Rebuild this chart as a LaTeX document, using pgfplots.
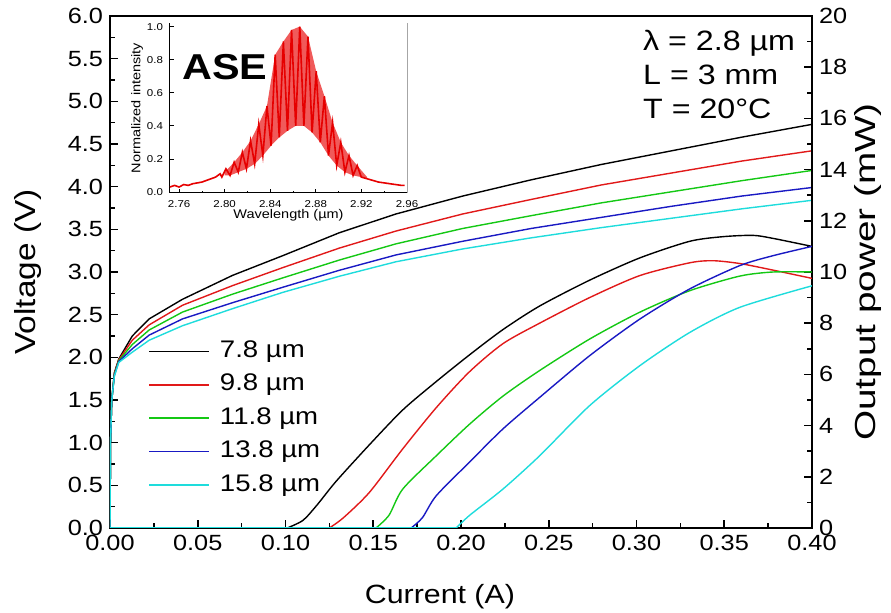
\documentclass[border=0pt]{standalone}
\usepackage{fontspec}
\setmainfont[FakeStretch=1.15]{Liberation Sans}
\usepackage{graphicx}
\usepackage{pgfplots}
\pgfplotsset{compat=1.18}
\definecolor{cRed}{RGB}{225,25,25}
\definecolor{cGreen}{RGB}{20,200,20}
\definecolor{cBlue}{RGB}{25,25,195}
\definecolor{cCyan}{RGB}{30,220,220}
\definecolor{aseRed}{RGB}{230,0,0}
\definecolor{aseFill}{RGB}{240,90,90}

\begin{document}
\begin{tikzpicture}
\pgfplotsset{every axis/.append style={/pgf/number format/assume math mode=true, scale only axis}}
% ---------------- main axis: voltage ----------------
\begin{axis}[
  width=351pt, height=256pt,
  xmin=0, xmax=0.4, ymin=0, ymax=6,
  axis line style={line width=0.9pt},
  xtick={0,0.05,0.1,0.15,0.2,0.25,0.3,0.35,0.4},
  ytick={0,0.5,1,1.5,2,2.5,3,3.5,4,4.5,5,5.5,6},
  scaled x ticks=false, scaled y ticks=false,
  minor x tick num=1, minor y tick num=1,
  tick align=inside, xtick pos=left, ytick pos=left,
  major tick length=4pt, minor tick length=2.5pt,
  tick style={line width=0.8pt, black},
  xticklabel style={/pgf/number format/.cd, fixed, fixed zerofill, precision=2},
  yticklabel style={/pgf/number format/.cd, fixed, fixed zerofill, precision=1},
  tick label style={font=\fontsize{11}{13}\selectfont},
  xlabel={Current (A)}, ylabel={Voltage (V)},
  every axis x label/.style={at={(axis description cs:0.47,-0.135)}, anchor=center, font=\fontsize{13.2}{16}\selectfont},
  every axis y label/.style={at={(axis description cs:-0.117,0.5)}, anchor=center, rotate=90, font=\fontsize{14.5}{16}\selectfont},
  legend style={draw=none, fill=none, at={(rel axis cs:0.0541,0.369)}, anchor=north west,
    inner sep=0pt, font=\fontsize{12}{14}\selectfont, row sep=4.7pt,
    nodes={inner sep=0pt, text height=9pt, text depth=3pt},
    /tikz/every odd column/.append style={column sep=5pt}},
  legend cell align=left,
  legend image code/.code={\draw[#1, line width=0.8pt] (0pt,0pt) -- (30pt,0pt);},
]
\addplot[black, line width=0.7pt] coordinates {
(0,0) (0.0003,1.0) (0.001,1.5) (0.0025,1.82) (0.005,1.98) (0.0127,2.25) (0.0223,2.45) (0.0413,2.68)
(0.0698,2.96) (0.0983,3.19) (0.1307,3.46) (0.163,3.68) (0.201,3.89) (0.24,4.08) (0.28,4.26)
(0.32,4.42) (0.36,4.58) (0.40,4.73)};
\addlegendentry{7.8 µm}
\addplot[cRed, line width=0.7pt] coordinates {
(0,0) (0.0003,1.0) (0.001,1.5) (0.0025,1.81) (0.005,1.97) (0.0127,2.2) (0.0223,2.38) (0.0413,2.61)
(0.0698,2.84) (0.0983,3.05) (0.1307,3.28) (0.163,3.48) (0.201,3.68) (0.24,3.85) (0.28,4.02)
(0.32,4.16) (0.36,4.30) (0.40,4.42)};
\addlegendentry{9.8 µm}
\addplot[cGreen, line width=0.7pt] coordinates {
(0,0) (0.0003,1.0) (0.001,1.5) (0.0025,1.8) (0.005,1.96) (0.0127,2.15) (0.0223,2.32) (0.0413,2.53)
(0.0698,2.74) (0.0983,2.93) (0.1307,3.14) (0.163,3.33) (0.201,3.51) (0.24,3.66) (0.28,3.81)
(0.32,3.94) (0.36,4.07) (0.40,4.19)};
\addlegendentry{11.8 µm}
\addplot[cBlue, line width=0.7pt] coordinates {
(0,0) (0.0003,1.0) (0.001,1.5) (0.0025,1.79) (0.005,1.95) (0.0127,2.1) (0.0223,2.26) (0.0413,2.45)
(0.0698,2.64) (0.0983,2.82) (0.1307,3.02) (0.163,3.2) (0.201,3.36) (0.24,3.51) (0.28,3.64)
(0.32,3.77) (0.36,3.89) (0.40,3.99)};
\addlegendentry{13.8 µm}
\addplot[cCyan, line width=0.7pt] coordinates {
(0,0) (0.0003,1.0) (0.001,1.5) (0.0025,1.78) (0.005,1.94) (0.0127,2.06) (0.0223,2.2) (0.0413,2.37)
(0.0698,2.57) (0.0983,2.76) (0.1307,2.95) (0.163,3.12) (0.201,3.27) (0.24,3.40) (0.28,3.52)
(0.32,3.63) (0.36,3.74) (0.40,3.84)};
\addlegendentry{15.8 µm}
\node[anchor=north west, align=left, inner sep=0pt, font=\fontsize{14}{17}\selectfont]
  at (rel axis cs:0.759,0.973) {λ = 2.8 µm\\L = 3 mm\\T = 20°C};
\end{axis}
% ---------------- second axis: output power ----------------
\begin{axis}[
  width=351pt, height=256pt,
  xmin=0, xmax=0.4, ymin=0, ymax=20,
  axis x line=none, axis y line*=right,
  axis line style={line width=0.9pt},
  ytick={0,2,4,6,8,10,12,14,16,18,20},
  minor y tick num=1, tick align=inside,
  major tick length=4pt, minor tick length=2.5pt,
  tick style={line width=0.8pt, black},
  tick label style={font=\fontsize{11}{13}\selectfont},
  ylabel={\scalebox{1.16}[1]{Output power (mW)}},
  every axis y label/.style={at={(axis description cs:1.08,0.5)}, anchor=center, rotate=90, font=\fontsize{14.5}{16}\selectfont},
]
\addplot[black, line width=0.7pt] coordinates {(0,0) (0.101,0)};
\addplot[black, line width=0.7pt, smooth, tension=0.45] coordinates {
(0.101,0) (0.11,0.3) (0.118,0.9) (0.1288,1.82) (0.1478,3.25) (0.1668,4.61) (0.1859,5.72)
(0.2048,6.76) (0.2239,7.75) (0.2448,8.67) (0.2733,9.68) (0.3019,10.55) (0.3304,11.2)
(0.3494,11.38) (0.3665,11.43) (0.378,11.31) (0.40,11.0)};
\addplot[cRed, line width=0.7pt] coordinates {(0,0) (0.125,0)};
\addplot[cRed, line width=0.7pt, smooth, tension=0.45] coordinates {
(0.125,0) (0.133,0.4) (0.1478,1.39) (0.1668,3.09) (0.1859,4.7) (0.2048,6.1) (0.2239,7.2)
(0.2448,8.0) (0.2733,9.0) (0.3019,9.86) (0.3304,10.36) (0.3437,10.44) (0.3589,10.33)
(0.378,10.07) (0.40,9.75)};
\addplot[cGreen, line width=0.7pt] coordinates {(0,0) (0.1516,0)};
\addplot[cGreen, line width=0.7pt, smooth, tension=0.45] coordinates {
(0.1516,0) (0.159,0.5) (0.1668,1.52) (0.1859,2.82) (0.2048,4.05) (0.2239,5.15) (0.2448,6.15)
(0.2733,7.38) (0.3019,8.43) (0.3304,9.27) (0.3589,9.84) (0.378,10.0) (0.40,10.0)};
\addplot[cBlue, line width=0.7pt] coordinates {(0,0) (0.1716,0)};
\addplot[cBlue, line width=0.7pt, smooth, tension=0.45] coordinates {
(0.1716,0) (0.178,0.4) (0.1859,1.26) (0.2048,2.57) (0.2239,3.87) (0.2448,5.1) (0.2733,6.73)
(0.3019,8.16) (0.3304,9.34) (0.3589,10.25) (0.378,10.64) (0.40,11.0)};
\addplot[cCyan, line width=0.7pt] coordinates {(0,0) (0.1973,0)};
\addplot[cCyan, line width=0.7pt, smooth, tension=0.45] coordinates {
(0.1973,0) (0.205,0.5) (0.2239,1.52) (0.2448,2.82) (0.2733,4.78) (0.3019,6.34) (0.3304,7.64)
(0.3589,8.62) (0.40,9.46)};
\end{axis}
% ---------------- inset: ASE spectrum ----------------
\begin{axis}[
  at={(30pt,167.5pt)}, anchor=south west,
  width=118.5pt, height=85pt,
  xmin=2.752, xmax=2.96, ymin=-0.006, ymax=1.022,
  axis x line*=bottom, axis y line*=left,
  axis line style={line width=0.5pt},
  xtick={2.76,2.80,2.84,2.88,2.92,2.96},
  ytick={0,0.2,0.4,0.6,0.8,1.0},
  minor x tick num=1, tick align=inside,
  major tick length=2pt, minor tick length=1pt,
  tick style={line width=0.4pt, black},
  xticklabel style={/pgf/number format/.cd, fixed, fixed zerofill, precision=2},
  yticklabel style={/pgf/number format/.cd, fixed, fixed zerofill, precision=1},
  tick label style={font=\fontsize{5}{6}\selectfont},
  xlabel={Wavelength (µm)}, ylabel={Normalized intensity},
  every axis x label/.style={at={(axis description cs:0.5,-0.13)}, anchor=center, font=\fontsize{6.3}{7}\selectfont},
  every axis y label/.style={at={(axis description cs:-0.139,0.5)}, anchor=center, rotate=90, font=\fontsize{6.3}{7}\selectfont},
  clip=false,
]
\addplot[fill=aseFill, draw=none] coordinates {
(2.800,0.12) (2.8083,0.18) (2.8155,0.24) (2.8227,0.31) (2.8299,0.41) (2.8371,0.52) (2.8443,0.83)
(2.8515,0.91) (2.8587,0.98) (2.8659,1.0) (2.8731,0.94) (2.8803,0.73) (2.8875,0.58) (2.8947,0.42)
(2.9019,0.30) (2.9091,0.22) (2.9163,0.16) (2.925,0.09)
(2.925,0.08) (2.9199,0.09) (2.9127,0.10) (2.9055,0.12) (2.8983,0.16) (2.8911,0.22) (2.8839,0.30)
(2.8767,0.36) (2.8695,0.40) (2.8623,0.40) (2.8551,0.37) (2.8479,0.33) (2.8407,0.28) (2.8335,0.22)
(2.8263,0.17) (2.8191,0.14) (2.8119,0.12) (2.8047,0.10) (2.800,0.10)} -- cycle;
\addplot[aseRed, line width=0.8pt] coordinates {
(2.752,0.03) (2.756,0.04) (2.760,0.03) (2.764,0.045) (2.768,0.04) (2.772,0.05) (2.776,0.055)
(2.780,0.06) (2.784,0.07) (2.788,0.08) (2.792,0.09) (2.796,0.11) (2.7975,0.09)
(2.8011,0.14) (2.8047,0.10) (2.8083,0.18) (2.8119,0.12) (2.8155,0.24) (2.8191,0.14)
(2.8227,0.31) (2.8263,0.17) (2.8299,0.41) (2.8335,0.22) (2.8371,0.52) (2.8407,0.28)
(2.8443,0.83) (2.8479,0.33) (2.8515,0.91) (2.8551,0.37) (2.8587,0.98) (2.8623,0.40)
(2.8659,1.0) (2.8695,0.40) (2.8731,0.94) (2.8767,0.36) (2.8803,0.73) (2.8839,0.30)
(2.8875,0.58) (2.8911,0.22) (2.8947,0.42) (2.8983,0.16) (2.9019,0.30) (2.9055,0.12)
(2.9091,0.22) (2.9127,0.10) (2.9163,0.16) (2.9199,0.09) (2.925,0.08) (2.930,0.07)
(2.935,0.06) (2.940,0.055) (2.945,0.05) (2.950,0.045) (2.955,0.04) (2.958,0.04)};
\draw[gray!70, line width=0.5pt] (rel axis cs:1,0) -- (rel axis cs:1,1);
\node[font=\bfseries\fontsize{18}{20}\selectfont, inner sep=0pt] at (axis cs:2.8003,0.756) {ASE};
\end{axis}
\pgfresetboundingbox
\useasboundingbox (-55pt,-42.5pt) rectangle (390.5pt,264pt);
\end{tikzpicture}
\end{document}
